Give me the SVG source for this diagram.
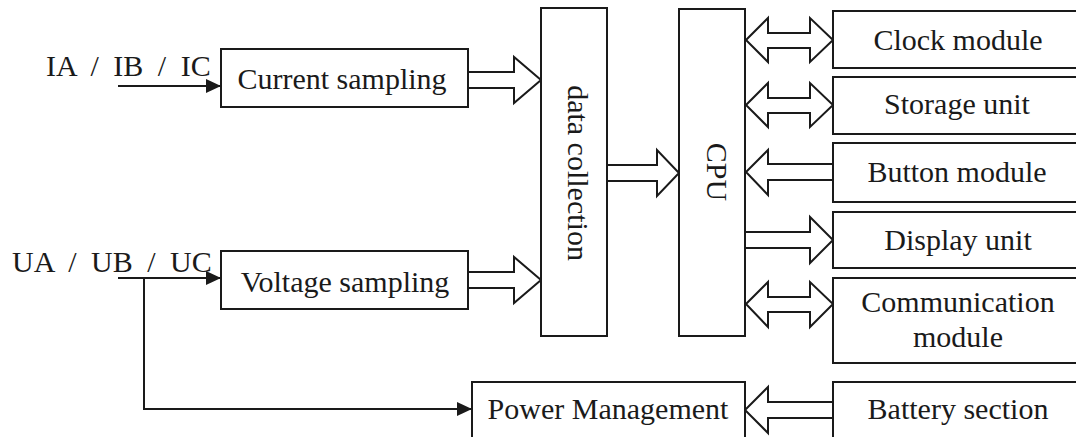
<svg xmlns="http://www.w3.org/2000/svg" width="1076" height="437" viewBox="0 0 1076 437">
<style>
.box{fill:#fff;stroke:#1a1a1a;stroke-width:2}
.hol{fill:#fff;stroke:#1a1a1a;stroke-width:2;stroke-linejoin:miter}
.ln{fill:none;stroke:#1a1a1a;stroke-width:2}
text{font-family:"Liberation Serif","Times New Roman",serif;font-size:30px;fill:#1a1a1a}
.c{text-anchor:middle}
.io{word-spacing:7px}
</style>
<defs>
<marker id="ah" markerWidth="15" markerHeight="14" refX="15" refY="7" orient="auto" markerUnits="userSpaceOnUse">
<path d="M0,0 L15,7 L0,14 Z" fill="#1a1a1a"/>
</marker>
</defs>
<rect width="1076" height="437" fill="#fff"/>

<g id="connectors">
<line class="ln" x1="118" y1="86" x2="221" y2="86" marker-end="url(#ah)"/>
<line class="ln" x1="118" y1="278" x2="221" y2="278" marker-end="url(#ah)"/>
<polyline class="ln" points="144,278 144,409 472,409" marker-end="url(#ah)"/>
<polygon class="hol" points="468,72 514,72 514,57 541,80 514,103 514,88 468,88"/>
<polygon class="hol" points="468,272 514,272 514,257 541,280 514,303 514,288 468,288"/>
<polygon class="hol" points="607,165 657,165 657,150 679,173 657,196 657,181 607,181"/>
<polygon class="hol" points="746,40 768,18 768,33 810,33 810,18 833,40 810,62 810,48 768,48 768,62"/>
<polygon class="hol" points="746,105 768,83 768,98 810,98 810,83 833,105 810,127 810,113 768,113 768,127"/>
<polygon class="hol" points="833,164 768,164 768,150 746,172 768,195 768,180 833,180"/>
<polygon class="hol" points="745,232 810,232 810,217 833,240 810,263 810,248 745,248"/>
<polygon class="hol" points="746,304 768,282 768,297 810,297 810,282 833,304 810,327 810,312 768,312 768,327"/>
<polygon class="hol" points="833,402 768,402 768,387 745,410 768,433 768,418 833,418"/>
</g>

<g id="inputs-current"><text class="io" x="46" y="76">IA / IB / IC</text></g>
<g id="inputs-voltage"><text class="io" x="12" y="272">UA / UB / UC</text></g>

<g id="current-sampling">
<rect class="box" x="221" y="49" width="247" height="58"/>
<text class="c" x="342" y="89">Current sampling</text>
</g>
<g id="voltage-sampling">
<rect class="box" x="221" y="251" width="247" height="58"/>
<text class="c" x="345" y="292">Voltage sampling</text>
</g>
<g id="data-collection">
<rect class="box" x="541" y="8" width="66" height="328"/>
<text class="c" transform="translate(577,173) rotate(90)" x="0" y="9">data collection</text>
</g>
<g id="cpu">
<rect class="box" x="679" y="9" width="66" height="327"/>
<text class="c" transform="translate(717,172) rotate(90)" x="0" y="10">CPU</text>
</g>
<g id="clock-module">
<rect class="box" x="833" y="11" width="250" height="57"/>
<text class="c" x="958" y="50">Clock module</text>
</g>
<g id="storage-unit">
<rect class="box" x="833" y="77" width="250" height="57"/>
<text class="c" x="957" y="114">Storage unit</text>
</g>
<g id="button-module">
<rect class="box" x="833" y="143" width="250" height="59"/>
<text class="c" x="957" y="182">Button module</text>
</g>
<g id="display-unit">
<rect class="box" x="833" y="212" width="250" height="56"/>
<text class="c" x="958" y="250">Display unit</text>
</g>
<g id="communication-module">
<rect class="box" x="833" y="278" width="250" height="85"/>
<text class="c" x="958" y="312">Communication</text>
<text class="c" x="958" y="347">module</text>
</g>
<g id="power-management">
<rect class="box" x="472" y="382" width="273" height="56"/>
<text class="c" x="608" y="419">Power Management</text>
</g>
<g id="battery-section">
<rect class="box" x="833" y="382" width="250" height="56"/>
<text class="c" x="958" y="419">Battery section</text>
</g>
</svg>
